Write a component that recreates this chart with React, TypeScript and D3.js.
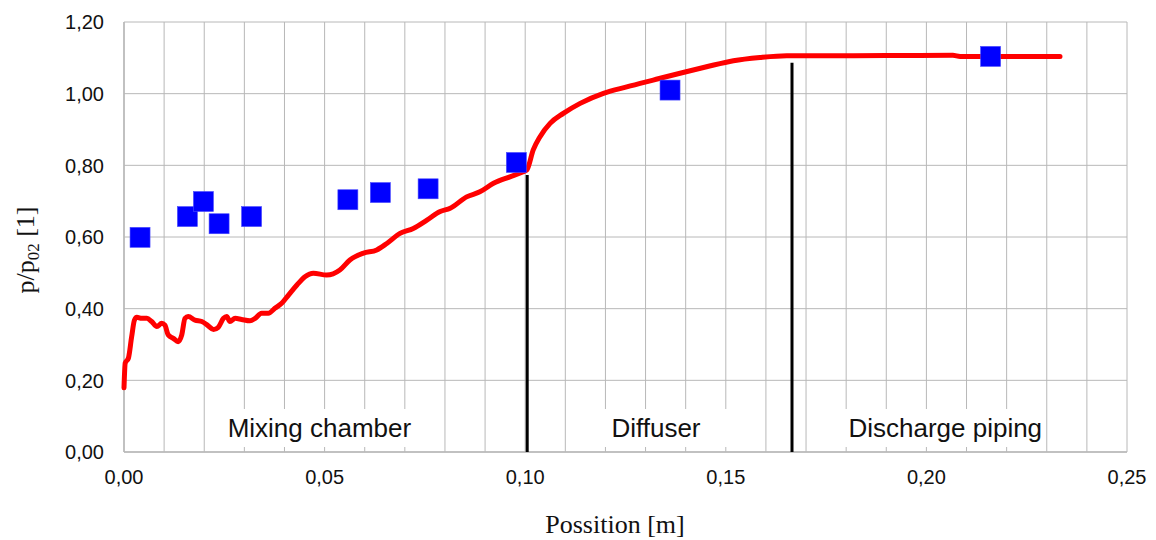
import React from "react";
import * as d3 from "d3";

// ---- data ----
const xTickValues = [0, 0.05, 0.1, 0.15, 0.2, 0.25];
const yTickValues = [0, 0.2, 0.4, 0.6, 0.8, 1.0, 1.2];

const simX = [0, 0.0003, 0.0011, 0.0019, 0.0026, 0.0032, 0.0044, 0.0057, 0.0069, 0.0082, 0.0094, 0.0102, 0.0110, 0.0123, 0.0135, 0.0144, 0.0152, 0.0160, 0.0177, 0.0194, 0.0210, 0.0223, 0.0235, 0.0248, 0.0256, 0.0264, 0.0277, 0.0293, 0.0314, 0.0327, 0.0343, 0.0360, 0.0376, 0.0393, 0.0410, 0.0431, 0.0451, 0.0472, 0.0505, 0.0538, 0.0563, 0.0597, 0.0630, 0.0655, 0.0688, 0.0721, 0.0755, 0.0788, 0.0813, 0.0854, 0.0887, 0.0921, 0.0962, 0.0995, 0.1004, 0.1020, 0.1037, 0.1062, 0.1095, 0.1137, 0.1195, 0.1253, 0.1319, 0.1386, 0.1452, 0.1519, 0.1585, 0.1652, 0.1735, 0.2066, 0.2084, 0.2333];
const simY = [0.179, 0.248, 0.262, 0.321, 0.368, 0.376, 0.373, 0.373, 0.364, 0.350, 0.359, 0.354, 0.327, 0.317, 0.308, 0.327, 0.373, 0.378, 0.368, 0.364, 0.352, 0.342, 0.348, 0.373, 0.378, 0.364, 0.373, 0.370, 0.366, 0.373, 0.387, 0.387, 0.401, 0.415, 0.438, 0.466, 0.489, 0.499, 0.494, 0.508, 0.536, 0.555, 0.564, 0.582, 0.610, 0.624, 0.647, 0.671, 0.680, 0.712, 0.726, 0.750, 0.768, 0.782, 0.787, 0.843, 0.880, 0.917, 0.945, 0.973, 1.001, 1.019, 1.038, 1.057, 1.075, 1.092, 1.101, 1.106, 1.106, 1.107, 1.104, 1.104];

const expX = [0.0040, 0.0158, 0.0198, 0.0237, 0.0318, 0.0558, 0.0639, 0.0758, 0.0978, 0.1361, 0.2160];
const expY = [0.599, 0.657, 0.699, 0.637, 0.657, 0.704, 0.724, 0.7345, 0.808, 1.010, 1.104];

const dividerX = [0.1005, 0.1665];
const dividerTop = [0.773, 1.086];

const sectionLabels = ["Mixing chamber", "Diffuser", "Discharge piping"];
const sectionCenter = [0.0487, 0.1326, 0.2047];
const sectionBoxFrom = [0.0227, 0.1174, 0.1775];
const sectionBoxTo = [0.0750, 0.1535, 0.2290];

const xTitle = "Possition [m]";

// ---- layout ----
const W = 1156;
const H = 540;
const M = { left: 124, right: 1127, top: 22, bottom: 452 };

export default function App() {
  const x = d3.scaleLinear().domain([0, 0.25]).range([M.left, M.right]);
  const y = d3.scaleLinear().domain([0, 1.2]).range([M.bottom, M.top]);

  const gridX = x.ticks(25);
  const sim = simX.map((v, i) => [v, simY[i]] as [number, number]);
  const line = d3
    .line<[number, number]>()
    .x((d) => x(d[0]))
    .y((d) => y(d[1]))
    .curve(d3.curveMonotoneX);

  const sans = "'Liberation Sans', Arial, sans-serif";
  const serif = "'Liberation Serif', 'Times New Roman', serif";
  const grid = "#b8b8b8";
  const sq = 20;

  return (
    <div style={{ position: "absolute", left: 0, top: 0 }}>
      <svg width={W} height={H} style={{ display: "block", background: "#fff" }}>
        {/* horizontal gridlines */}
        {yTickValues.map((t) => (
          <line key={"gy" + t} x1={M.left} x2={M.right} y1={y(t)} y2={y(t)} stroke={grid} strokeWidth={1} />
        ))}
        {/* vertical gridlines */}
        {gridX.map((t) => (
          <line key={"gx" + t} x1={x(t)} x2={x(t)} y1={M.top} y2={M.bottom} stroke={grid} strokeWidth={1} />
        ))}

        {/* section label boxes */}
        {sectionLabels.map((s, i) => (
          <g key={"sec" + i}>
            <rect
              x={x(sectionBoxFrom[i])}
              width={x(sectionBoxTo[i]) - x(sectionBoxFrom[i])}
              y={409}
              height={38}
              fill="#fff"
            />
            <text x={x(sectionCenter[i])} y={437} textAnchor="middle" fontFamily={sans} fontSize={26} fill="#111">
              {s}
            </text>
          </g>
        ))}

        {/* axes lines */}
        <line x1={M.left} x2={M.right} y1={M.bottom} y2={M.bottom} stroke={grid} strokeWidth={1.5} />
        <line x1={M.left} x2={M.left} y1={M.top} y2={M.bottom} stroke={grid} strokeWidth={1.5} />

        {/* divider lines */}
        {dividerX.map((d, i) => (
          <line key={"div" + i} x1={x(d)} x2={x(d)} y1={y(dividerTop[i])} y2={M.bottom} stroke="#000" strokeWidth={3} />
        ))}

        {/* simulation line */}
        <path d={line(sim) || ""} fill="none" stroke="#ff0000" strokeWidth={5} strokeLinejoin="round" strokeLinecap="round" />

        {/* experiment squares */}
        {expX.map((v, i) => (
          <rect key={"e" + i} x={x(v) - sq / 2} y={y(expY[i]) - sq / 2} width={sq} height={sq} fill="#0000ff" stroke="#4a4aff" strokeWidth={0.6} />
        ))}

        {/* y tick labels */}
        {yTickValues.map((t) => (
          <text key={"yl" + t} x={104} y={y(t) + 7.3} textAnchor="end" fontFamily={sans} fontSize={20} fill="#111">
            {t.toFixed(2).replace(".", ",")}
          </text>
        ))}
        {/* x tick labels */}
        {xTickValues.map((t) => (
          <text key={"xl" + t} x={x(t)} y={484} textAnchor="middle" fontFamily={sans} fontSize={20} fill="#111">
            {t.toFixed(2).replace(".", ",")}
          </text>
        ))}

        {/* axis titles */}
        <text x={615} y={533} textAnchor="middle" fontFamily={serif} fontSize={26} fill="#111">
          {xTitle}
        </text>
        <text transform="translate(34,250) rotate(-90)" textAnchor="middle" fontFamily={serif} fontSize={26} fill="#111">
          p/p<tspan fontSize={17} dy={5}>02</tspan>
          <tspan dy={-5}> [1]</tspan>
        </text>
      </svg>
    </div>
  );
}
